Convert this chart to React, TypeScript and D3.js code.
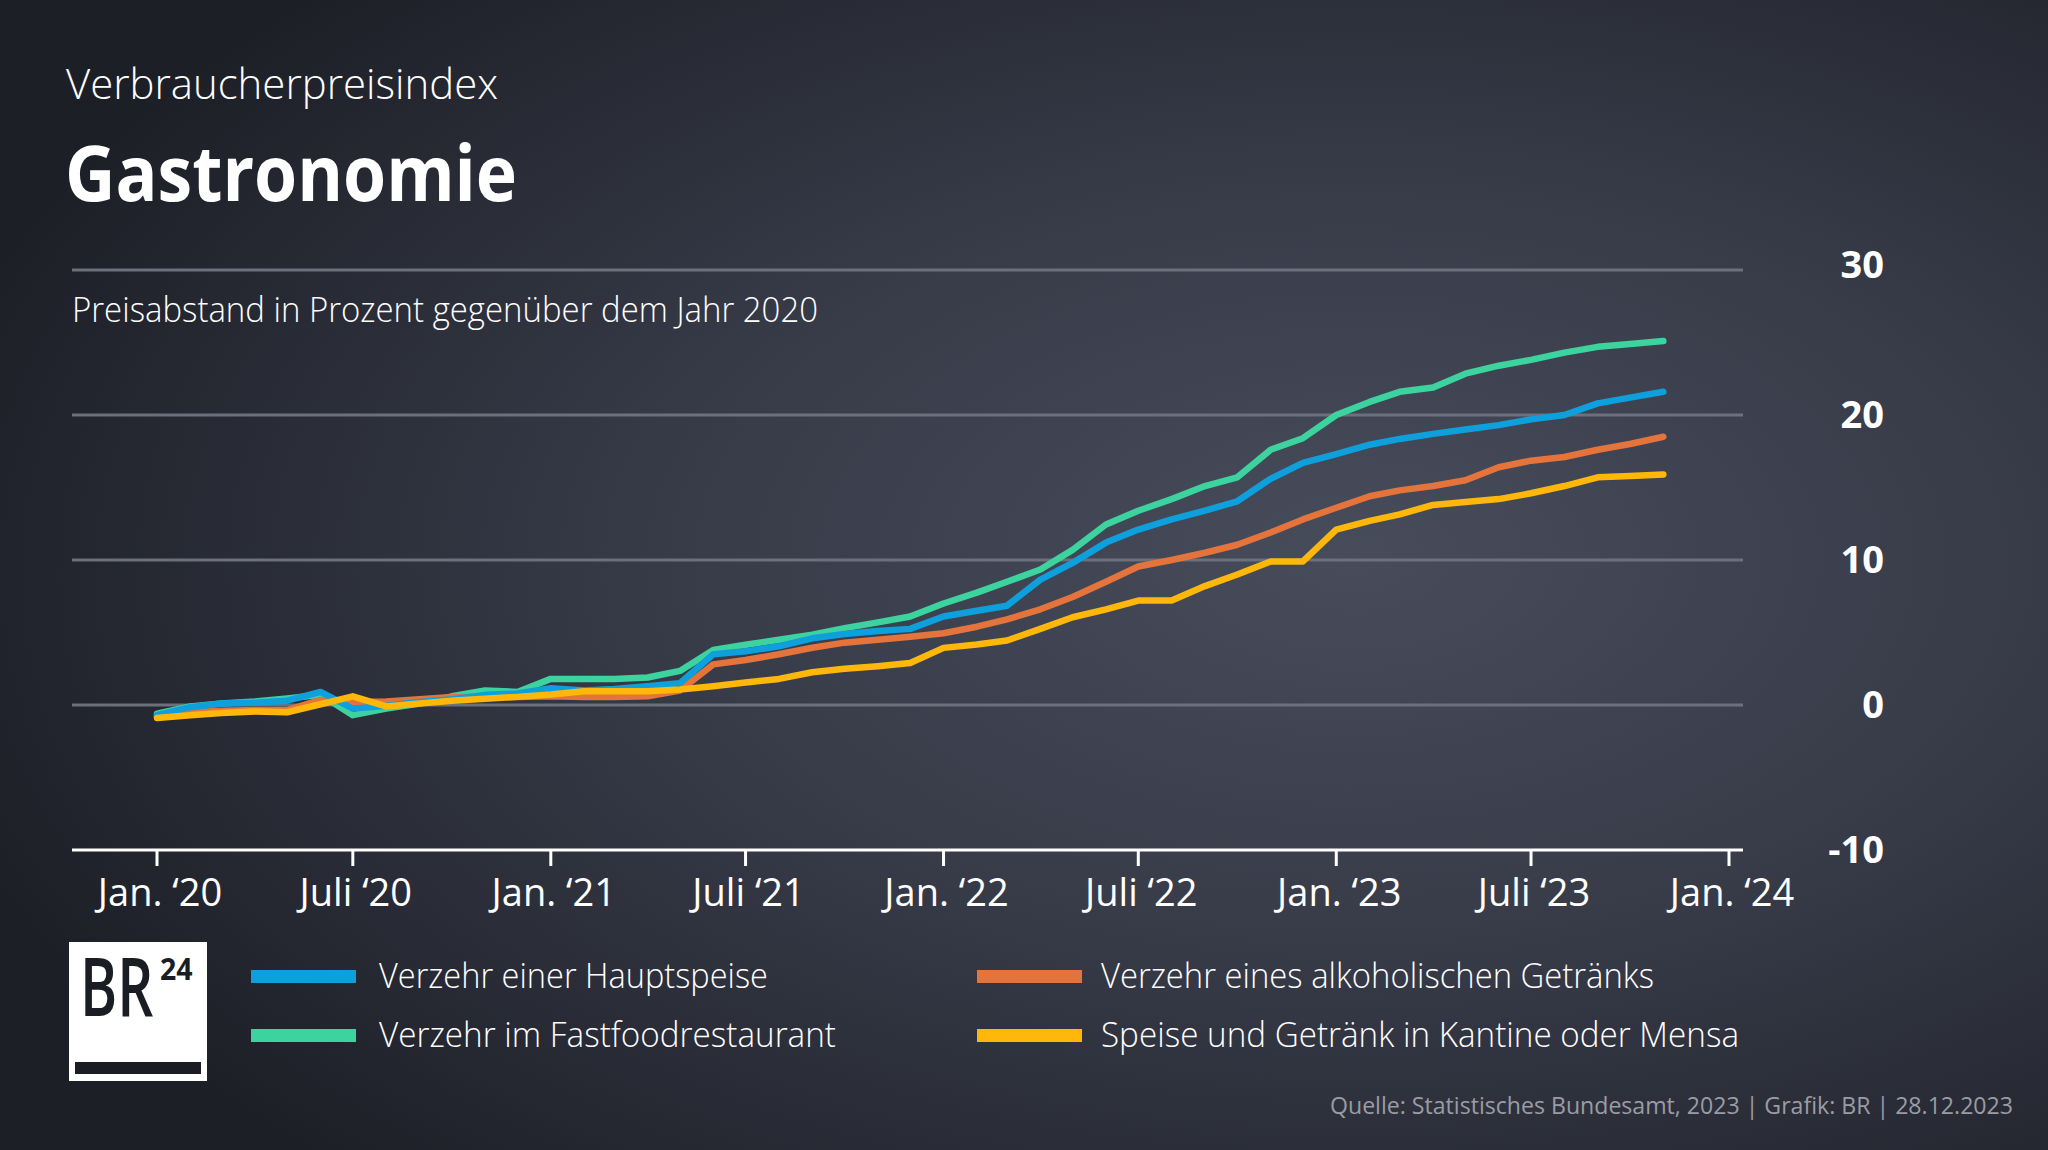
import React from "react";
import * as d3 from "d3";

// ---- Data (Preisabstand in % gegenüber 2020), monthly Jan 2020 – Nov 2023 ----
const startMonth = new Date(2020, 0, 1);
const endMonthExclusive = new Date(2023, 11, 1);

const hauptspeise = [
  -0.7, -0.15, 0.1, 0.15, 0.3, 0.9, -0.25, -0.05, 0.2, 0.4,
  0.7, 0.8, 1.15, 1.0, 1.1, 1.3, 1.5, 3.5, 3.7, 4.05,
  4.6, 4.9, 5.1, 5.25, 6.1, 6.5, 6.85, 8.65, 9.8, 11.2,
  12.1, 12.8, 13.4, 14.05, 15.6, 16.7, 17.3, 17.95, 18.35, 18.7,
  19.0, 19.3, 19.7, 20.0, 20.8, 21.2, 21.6,
];
const fastfood = [
  -0.6, -0.1, 0.1, 0.25, 0.45, 0.7, -0.7, -0.25, 0.1, 0.6,
  1.0, 0.9, 1.8, 1.8, 1.8, 1.9, 2.35, 3.8, 4.15, 4.5,
  4.85, 5.3, 5.7, 6.1, 7.0, 7.75, 8.5, 9.35, 10.7, 12.45,
  13.4, 14.2, 15.1, 15.7, 17.6, 18.4, 20.0, 20.9, 21.6, 21.9,
  22.85, 23.4, 23.8, 24.3, 24.7, 24.9, 25.1,
];
const alkohol = [
  -0.8, -0.5, -0.4, -0.35, -0.35, 0.35, 0.2, 0.25, 0.4, 0.55,
  0.55, 0.55, 0.6, 0.55, 0.55, 0.6, 1.0, 2.8, 3.1, 3.5,
  3.95, 4.3, 4.5, 4.7, 4.95, 5.4, 5.9, 6.6, 7.45, 8.5,
  9.55, 10.0, 10.5, 11.05, 11.9, 12.8, 13.6, 14.4, 14.8, 15.1,
  15.5, 16.4, 16.85, 17.1, 17.6, 18.0, 18.5,
];
const kantine = [
  -0.9, -0.7, -0.55, -0.45, -0.5, 0.05, 0.6, -0.1, 0.1, 0.3,
  0.43, 0.56, 0.72, 0.95, 0.95, 0.95, 1.07, 1.3, 1.55, 1.8,
  2.26, 2.5, 2.68, 2.9, 3.94, 4.17, 4.45, 5.25, 6.05, 6.6,
  7.2, 7.2, 8.2, 9.0, 9.9, 9.9, 12.1, 12.7, 13.15, 13.8,
  14.0, 14.2, 14.6, 15.1, 15.7, 15.8, 15.9,
];

const seriesNames = [
  "Verzehr einer Hauptspeise",
  "Verzehr im Fastfoodrestaurant",
  "Verzehr eines alkoholischen Getränks",
  "Speise und Getränk in Kantine oder Mensa",
];
const seriesColors = ["#0ea0dc", "#3cd39f", "#e4743c", "#ffb80a"];
const seriesValues = [hauptspeise, fastfood, alkohol, kantine];
// draw order bottom -> top
const drawOrder = [1, 2, 0, 3];

const yTicks = [-10, 0, 10, 20, 30];
const gridValues = [0, 10, 20, 30];
const xTickDates = [
  new Date(2020, 0, 1), new Date(2020, 6, 1), new Date(2021, 0, 1), new Date(2021, 6, 1),
  new Date(2022, 0, 1), new Date(2022, 6, 1), new Date(2023, 0, 1), new Date(2023, 6, 1),
  new Date(2024, 0, 1),
];
const xTickLabels = [
  "Jan. \u201820", "Juli \u201820", "Jan. \u201821", "Juli \u201821",
  "Jan. \u201822", "Juli \u201822", "Jan. \u201823", "Juli \u201823", "Jan. \u201824",
];

const FONT = "'Open Sans', 'Noto Sans', sans-serif";

export default function App() {
  const W = 2048;
  const H = 1150;
  const months = d3.timeMonth.range(startMonth, endMonthExclusive);

  const x = d3.scaleTime().domain([new Date(2020, 0, 1), new Date(2024, 0, 1)]).range([157, 1729]);
  const y = d3.scaleLinear().domain([-10, 30]).range([850, 270]);
  const plotLeft = 72;
  const plotRight = 1743;

  const line = d3
    .line<number>()
    .x((_, i) => x(months[i]))
    .y((v) => y(v));

  return (
    <div style={{ position: "absolute", left: 0, top: 0, width: W, height: H, overflow: "hidden" }}>
      <svg width={W} height={H} style={{ display: "block" }} fontFamily={FONT}>
        <defs>
          <radialGradient id="bg" cx="0.66" cy="0.5" r="0.72" fx="0.66" fy="0.48">
            <stop offset="0" stopColor="#474c5b" />
            <stop offset="0.45" stopColor="#383c49" />
            <stop offset="1" stopColor="#1d1f27" />
          </radialGradient>
        </defs>
        <rect x={0} y={0} width={W} height={H} fill="url(#bg)" />

        {/* Titles */}
        <text x={66} y={99} fill="#ffffff" fontSize={43} fontWeight={300} textLength={432} lengthAdjust="spacingAndGlyphs">
          Verbraucherpreisindex
        </text>
        <text x={65} y={201} fill="#ffffff" fontSize={77} fontWeight={700} textLength={452} lengthAdjust="spacingAndGlyphs">
          Gastronomie
        </text>
        <text x={72} y={322} fill="#ffffff" fontSize={35} fontWeight={300} textLength={746} lengthAdjust="spacingAndGlyphs">
          Preisabstand in Prozent gegenüber dem Jahr 2020
        </text>

        {/* Gridlines */}
        {gridValues.map((v) => (
          <line key={v} x1={plotLeft} x2={plotRight} y1={y(v)} y2={y(v)} stroke="#6c707c" strokeWidth={3} />
        ))}

        {/* Y labels */}
        {yTicks.map((v) => (
          <text key={v} x={1884} y={y(v)} dy={v === 30 ? "0.22em" : "0.34em"} textAnchor="end" fill="#ffffff" fontSize={38} fontWeight={700}>
            {v}
          </text>
        ))}

        {/* Lines */}
        {drawOrder.map((si) => (
          <path
            key={si}
            d={line(seriesValues[si]) || ""}
            fill="none"
            stroke={seriesColors[si]}
            strokeWidth={6.5}
            strokeLinejoin="round"
            strokeLinecap="round"
          />
        ))}

        {/* X axis */}
        <line x1={plotLeft} x2={plotRight} y1={y(-10)} y2={y(-10)} stroke="#ffffff" strokeWidth={3} />
        {xTickDates.map((d, i) => (
          <g key={i} transform={`translate(${x(d)},${y(-10)})`}>
            <line y1={0} y2={16} stroke="#ffffff" strokeWidth={3} />
            <text x={3} y={56} textAnchor="middle" fill="#ffffff" fontSize={38}>
              {xTickLabels[i]}
            </text>
          </g>
        ))}

        {/* Logo */}
        <rect x={69} y={942} width={138} height={139} fill="#ffffff" />
        <text transform="translate(80,1016) scale(0.69,1)" fill="#1b1d24" fontSize={82} fontWeight={600}>
          BR
        </text>
        <text transform="translate(160,980) scale(0.95,1)" fill="#1b1d24" fontSize={30} fontWeight={700}>
          24
        </text>
        <rect x={75} y={1062} width={126} height={12} fill="#1b1d24" />

        {/* Legend */}
        {[
          { si: 0, sx: 251, tx: 379, ty: 988, tw: 389 },
          { si: 1, sx: 251, tx: 379, ty: 1047, tw: 457 },
          { si: 2, sx: 977, tx: 1101, ty: 988, tw: 553 },
          { si: 3, sx: 977, tx: 1101, ty: 1047, tw: 638 },
        ].map((it) => (
          <g key={it.si}>
            <rect x={it.sx} y={it.ty - 18} width={105} height={13} fill={seriesColors[it.si]} />
            <text x={it.tx} y={it.ty} fill="#ffffff" fontSize={35} fontWeight={300} textLength={it.tw} lengthAdjust="spacingAndGlyphs">
              {seriesNames[it.si]}
            </text>
          </g>
        ))}

        {/* Source */}
        <text x={2013} y={1114} textAnchor="end" fill="#9a9ca4" fontSize={24} fontWeight={400} textLength={683} lengthAdjust="spacingAndGlyphs">
          Quelle: Statistisches Bundesamt, 2023 | Grafik: BR | 28.12.2023
        </text>
      </svg>
    </div>
  );
}
